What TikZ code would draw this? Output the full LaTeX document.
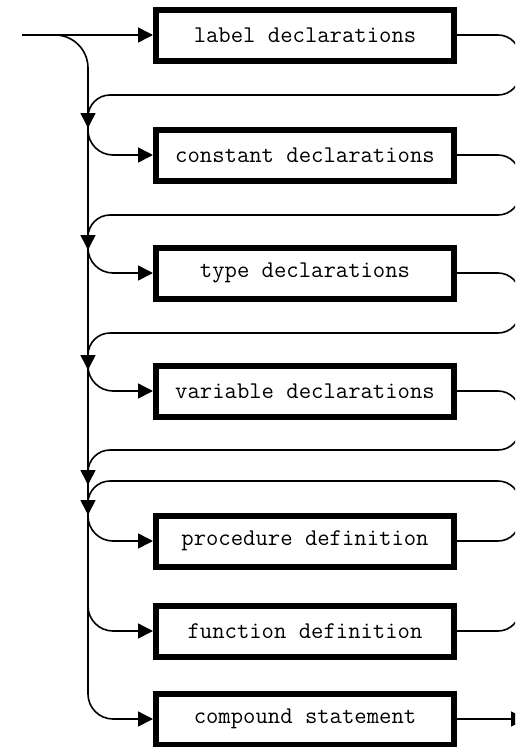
\documentclass[tikz,border=0pt]{standalone}
\usetikzlibrary{arrows.meta,positioning}

\tikzset{
	synbox/.style={draw, line width=6pt, minimum width=298pt, minimum height=51pt, inner sep=0pt, font=\ttfamily\fontsize{24}{28}\selectfont},
	flow/.style={line width=1.6pt, -{Triangle[length=15pt,width=15pt]}},
	back/.style={line width=1.6pt, rounded corners=22pt},
}

\begin{document}
\begin{tikzpicture}[x=1pt,y=1pt,yscale=-1,xscale=1]
	\useasboundingbox (0,0) rectangle (515,747);
	\clip (0,0) rectangle (515,747);
	
	% rails and levels
	\coordinate (main) at (88,0);
	\coordinate (rail) at (520,0);
	\coordinate (in) at (22,35);
	\coordinate (out) at (526,719);
	\coordinate (j1) at (88,128);
	\coordinate (j2) at (88,250);
	\coordinate (j3) at (88,370);
	\coordinate (j4) at (88,485);
	\coordinate (j5) at (88,515);
	\coordinate (r1) at (0,95);
	\coordinate (r2) at (0,215);
	\coordinate (r3) at (0,333);
	\coordinate (r4) at (0,450);
	\coordinate (r5) at (0,481);
	
	% Boxes
	\node[synbox] (lab) at (305,35) {label declarations};
	\node[synbox] (con) at (305,155) {constant declarations};
	\node[synbox] (typ) at (305,273) {type declarations};
	\node[synbox] (var) at (305,391) {variable declarations};
	\node[synbox] (pro) at (305,541) {procedure definition};
	\node[synbox] (fun) at (305,631) {function definition};
	\node[synbox] (com) at (305,719) {compound statement};
	
	% entry
	\draw[flow] (in) -- (lab);
	\draw[flow, rounded corners=33pt] (in) -| (j1);
	
	% main line
	\draw[flow] (j1) -- (j2);
	\draw[flow] (j2) -- (j3);
	\draw[flow] (j3) -- (j4);
	\draw[flow] (j4) -- (j5);
	
	% branches into the boxes
	\draw[flow, rounded corners=25pt] (j1) |- (con);
	\draw[flow, rounded corners=25pt] (j2) |- (typ);
	\draw[flow, rounded corners=25pt] (j3) |- (var);
	\draw[flow, rounded corners=25pt] (j5) |- (pro);
	\draw[flow, rounded corners=25pt] (j5) |- (fun);
	\draw[flow, rounded corners=25pt] (j5) |- (com);
	
	% loops back
	\draw[back] (lab) -- (lab -| rail) -- (rail |- r1) -- (main |- r1) -- (j1);
	\draw[back] (con) -- (con -| rail) -- (rail |- r2) -- (main |- r2) -- (j2);
	\draw[back] (typ) -- (typ -| rail) -- (rail |- r3) -- (main |- r3) -- (j3);
	\draw[back] (var) -- (var -| rail) -- (rail |- r4) -- (main |- r4) -- (j4);
	\draw[back] (pro) -- (pro -| rail) -- (rail |- r5) -- (main |- r5) -- (j5);
	\draw[back] (fun) -- (fun -| rail) -- (rail |- r5);
	
	% exit
	\draw[flow] (com) -- (out);
	
\end{tikzpicture}
\end{document}
